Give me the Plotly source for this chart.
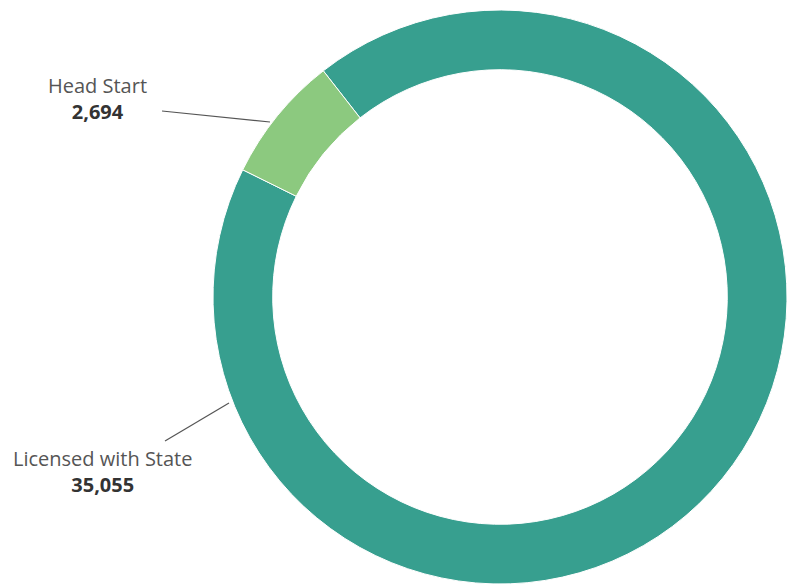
import plotly.graph_objects as go

labels = ["Licensed with State", "Head Start"]
values = [35055, 2694]
colors = ["#379f8f", "#8cc97f"]

W, H = 787, 586

def px(x):
    return min(max(x / W, 0), 1)

def py(y):
    return min(max(1 - y / H, 0), 1)

cx, cy, r = 500, 297, 287

fig = go.Figure(go.Pie(
    labels=labels,
    values=values,
    hole=0.792,
    sort=False,
    direction="clockwise",
    rotation=-38,
    marker=dict(colors=colors, line=dict(color="#ffffff", width=1)),
    textinfo="none",
    hoverinfo="label+value",
    showlegend=False,
    domain=dict(x=[px(cx - r), px(cx + r)], y=[py(cy + r), py(cy - r)]),
))

font = "Open Sans"
label_pos = {
    "Head Start": (97, 98),
    "Licensed with State": (102, 471),
}
for lab, val in zip(labels, values):
    x, y = label_pos[lab]
    fig.add_annotation(
        x=px(x), y=py(y), xref="paper", yref="paper",
        text=f"<span style='color:#555555'>{lab}</span><br><b>{val:,}</b>",
        showarrow=False, align="center",
        font=dict(family=font, size=20, color="#333333"),
        xanchor="center", yanchor="middle",
    )

leaders = [((162, 111), (270, 122)), ((165, 441), (229, 403))]
for (x0, y0), (x1, y1) in leaders:
    fig.add_shape(type="line", xref="paper", yref="paper",
                  x0=px(x0), y0=py(y0), x1=px(x1), y1=py(y1),
                  line=dict(color="#555555", width=1.2))

fig.update_layout(
    width=W, height=H,
    margin=dict(l=0, r=0, t=0, b=0),
    paper_bgcolor="white",
    plot_bgcolor="white",
)

fig.write_html("out.html")
